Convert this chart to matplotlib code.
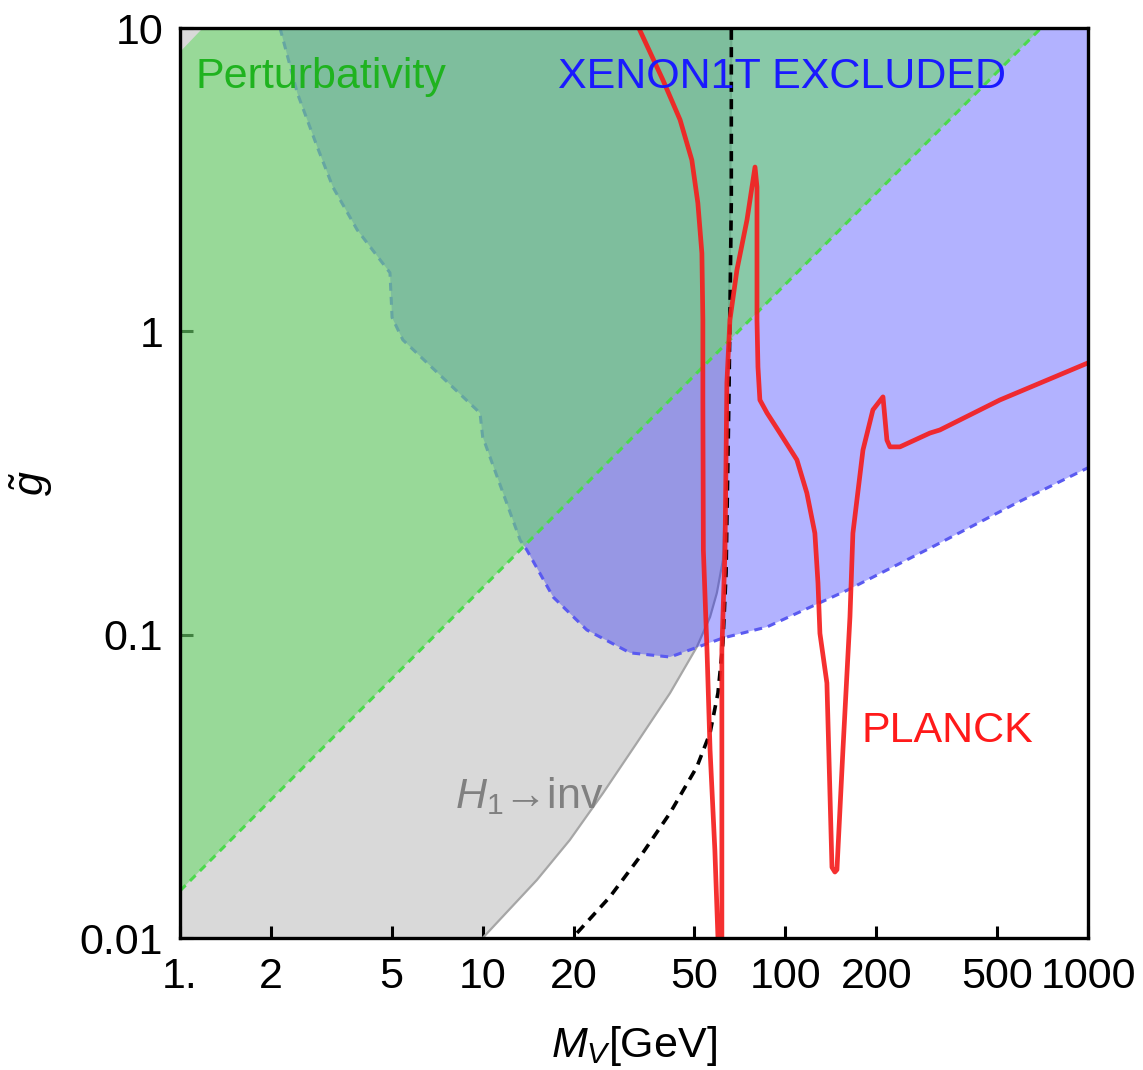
import matplotlib
matplotlib.use("Agg")
import matplotlib.pyplot as plt
import numpy as np

plt.rcParams['font.family'] = ['Liberation Sans', 'DejaVu Sans']
plt.rcParams['mathtext.fontset'] = 'custom'
plt.rcParams['mathtext.rm'] = 'Liberation Sans'
plt.rcParams['mathtext.it'] = 'Liberation Sans:italic'
plt.rcParams['mathtext.bf'] = 'Liberation Sans:bold'

# ---------------- data ----------------
x_ticks = [1, 2, 5, 10, 20, 50, 100, 200, 500, 1000]
x_tick_labels = ['1.', '2', '5', '10', '20', '50', '100', '200', '500', '1000']
y_ticks = [0.01, 0.1, 1, 10]
y_tick_labels = ['0.01', '0.1', '1', '10']

# Perturbativity region: band between lower and upper lines
pert_low_M = [1.0, 700.0]
pert_low_g = [0.0143, 10.0]
pert_up_M = [1.19, 1.0]
pert_up_g = [10.0, 8.34]

# XENON1T excluded boundary
xenon_M = [2.14, 2.44, 2.84, 3.20, 3.85, 4.94, 5.02, 5.45, 9.80, 10.0, 13.3, 14.0,
           17.1, 22.1, 30.7, 41.6, 48.4, 62.2, 86.9, 159.8, 307, 582, 1000]
xenon_g = [10.0, 6.11, 4.06, 2.99, 2.16, 1.56, 1.11, 0.937, 0.538, 0.449, 0.205, 0.190,
           0.133, 0.1036, 0.0871, 0.0844, 0.0891, 0.0975, 0.106, 0.140, 0.195, 0.272, 0.355]

# H1 -> invisible boundary
hinv_M = [10.0, 15.1, 19.4, 25.0, 32.3, 41.6, 51.0, 56.4, 59.4, 62.2, 64.1, 65.6, 66.3]
hinv_g = [0.01, 0.01553, 0.02104, 0.03007, 0.04395, 0.0642, 0.0911, 0.1144, 0.1373,
          0.1763, 0.406, 1.855, 10.0]

# black dashed curve
dash_M = [20.5, 26.3, 33.8, 41.6, 51.0, 56.4, 59.9, 62.2, 63.7, 65.1, 66.3, 66.3]
dash_g = [0.01039, 0.01365, 0.01907, 0.02583, 0.03663, 0.04742, 0.0642, 0.0939,
          0.1597, 0.594, 2.71, 10.0]

# PLANCK relic density contour
planck_M = [32.8, 39.4, 44.9, 49.1, 51.4, 53.0, 53.4, 53.4, 53.6, 55.1, 56.4, 58.5, 59.9,
            60.8, 61.7, 61.7, 61.7, 61.7, 63.2, 64.1, 65.6, 69.2, 74.7, 79.4, 80.6,
            80.6, 80.6, 81.2, 82.4, 87.0, 96.0, 109.2, 117.8, 125.2, 128.2, 130.1, 137.2,
            142.6, 145.8, 148.1, 155.0, 163.5, 167.2, 180.5, 194.7, 210.2, 216.6,
            221.6, 239.1, 300.4, 324.1, 511.6, 1000]
planck_g = [10.0, 6.74, 4.98, 3.67, 2.65, 1.81, 1.09, 0.594, 0.190, 0.0891, 0.0417, 0.0195, 0.01,
            0.0085, 0.01, 0.0195, 0.0417, 0.0891, 0.190, 0.676, 1.09, 1.594, 2.33, 3.48, 2.99,
            1.81, 1.09, 0.763, 0.594, 0.538, 0.462, 0.377, 0.293, 0.216, 0.148, 0.101, 0.0693,
            0.0171, 0.0165, 0.0168, 0.0417, 0.1144, 0.216, 0.406, 0.551, 0.608, 0.438,
            0.416, 0.416, 0.462, 0.473, 0.594, 0.787]

# ---------------- figure ----------------
fig = plt.figure(figsize=(11.43, 10.70), dpi=100)
ax = fig.add_axes([180/1143, 1-938/1070, 908/1143, 910/1070])
ax.set_xscale('log')
ax.set_yscale('log')
ax.set_xlim(1, 1000)
ax.set_ylim(0.01, 10)

# gray H1->inv region (left of curve)
gx = [1.0] + hinv_M + [1.0]
gy = [0.01] + hinv_g + [10.0]
ax.fill(gx, gy, color='#d9d9d9', lw=0, zorder=1)
ax.plot(hinv_M, hinv_g, color='#a6a6a6', lw=1.6, zorder=2)

# XENON1T region (above boundary)
bx = xenon_M + [1000.0]
by = xenon_g + [10.0]
ax.fill(bx, by, color=(0, 0, 1), alpha=0.3, lw=0, zorder=3)
ax.plot(xenon_M, xenon_g, color='#5a5af0', lw=2.2, ls=(0, (2.6, 2.0)), zorder=4)

# Perturbativity region
px = pert_low_M + pert_up_M
py = pert_low_g + pert_up_g
ax.fill(px, py, color=(0.43, 0.85, 0.43), alpha=0.6, lw=0, zorder=5)
ax.plot(pert_low_M, pert_low_g, color='#4cd94c', lw=2.2, ls=(0, (2.6, 2.0)), zorder=6)

# black dashed curve
ax.plot(dash_M, dash_g, color='black', lw=2.6, ls=(0, (2.8, 2.0)), zorder=7)

# PLANCK curve
ax.plot(planck_M, planck_g, color='#f51e1e', lw=3.4, alpha=0.92, zorder=8,
        solid_joinstyle='round')

# texts
fs = 31
ax.text(0.0176, 0.934, 'Perturbativity', color='#1fb31f', fontsize=fs,
        transform=ax.transAxes, ha='left', va='baseline', zorder=10)
ax.text(0.416, 0.934, 'XENON1T EXCLUDED', color='#1a1aff', fontsize=fs,
        transform=ax.transAxes, ha='left', va='baseline', zorder=10)
ax.text(0.751, 0.215, 'PLANCK', color='#ff1a1a', fontsize=fs,
        transform=ax.transAxes, ha='left', va='baseline', zorder=10)
ax.text(0.303, 0.143, r'$H_1$→inv', color='#808080', fontsize=fs,
        transform=ax.transAxes, ha='left', va='baseline', zorder=10)

# axes styling
for s in ax.spines.values():
    s.set_linewidth(2.4)
    s.set_zorder(20)
ax.set_xticks(x_ticks)
ax.set_xticklabels(x_tick_labels)
ax.set_yticks(y_ticks)
ax.set_yticklabels(y_tick_labels)
ax.minorticks_off()
ax.tick_params(axis='both', which='major', direction='in', length=9, width=2.2,
               labelsize=31, pad=12, colors='black')
ax.tick_params(axis='x', pad=14)

ax.set_xlabel(r'$M_V$[GeV]', fontsize=31)
ax.xaxis.set_label_coords(0.5, -0.095)
ax.set_ylabel(r'$\tilde{g}$', fontsize=31)
ax.yaxis.set_label_coords(-0.138, 0.5)

fig.savefig('out.png', dpi=100)
